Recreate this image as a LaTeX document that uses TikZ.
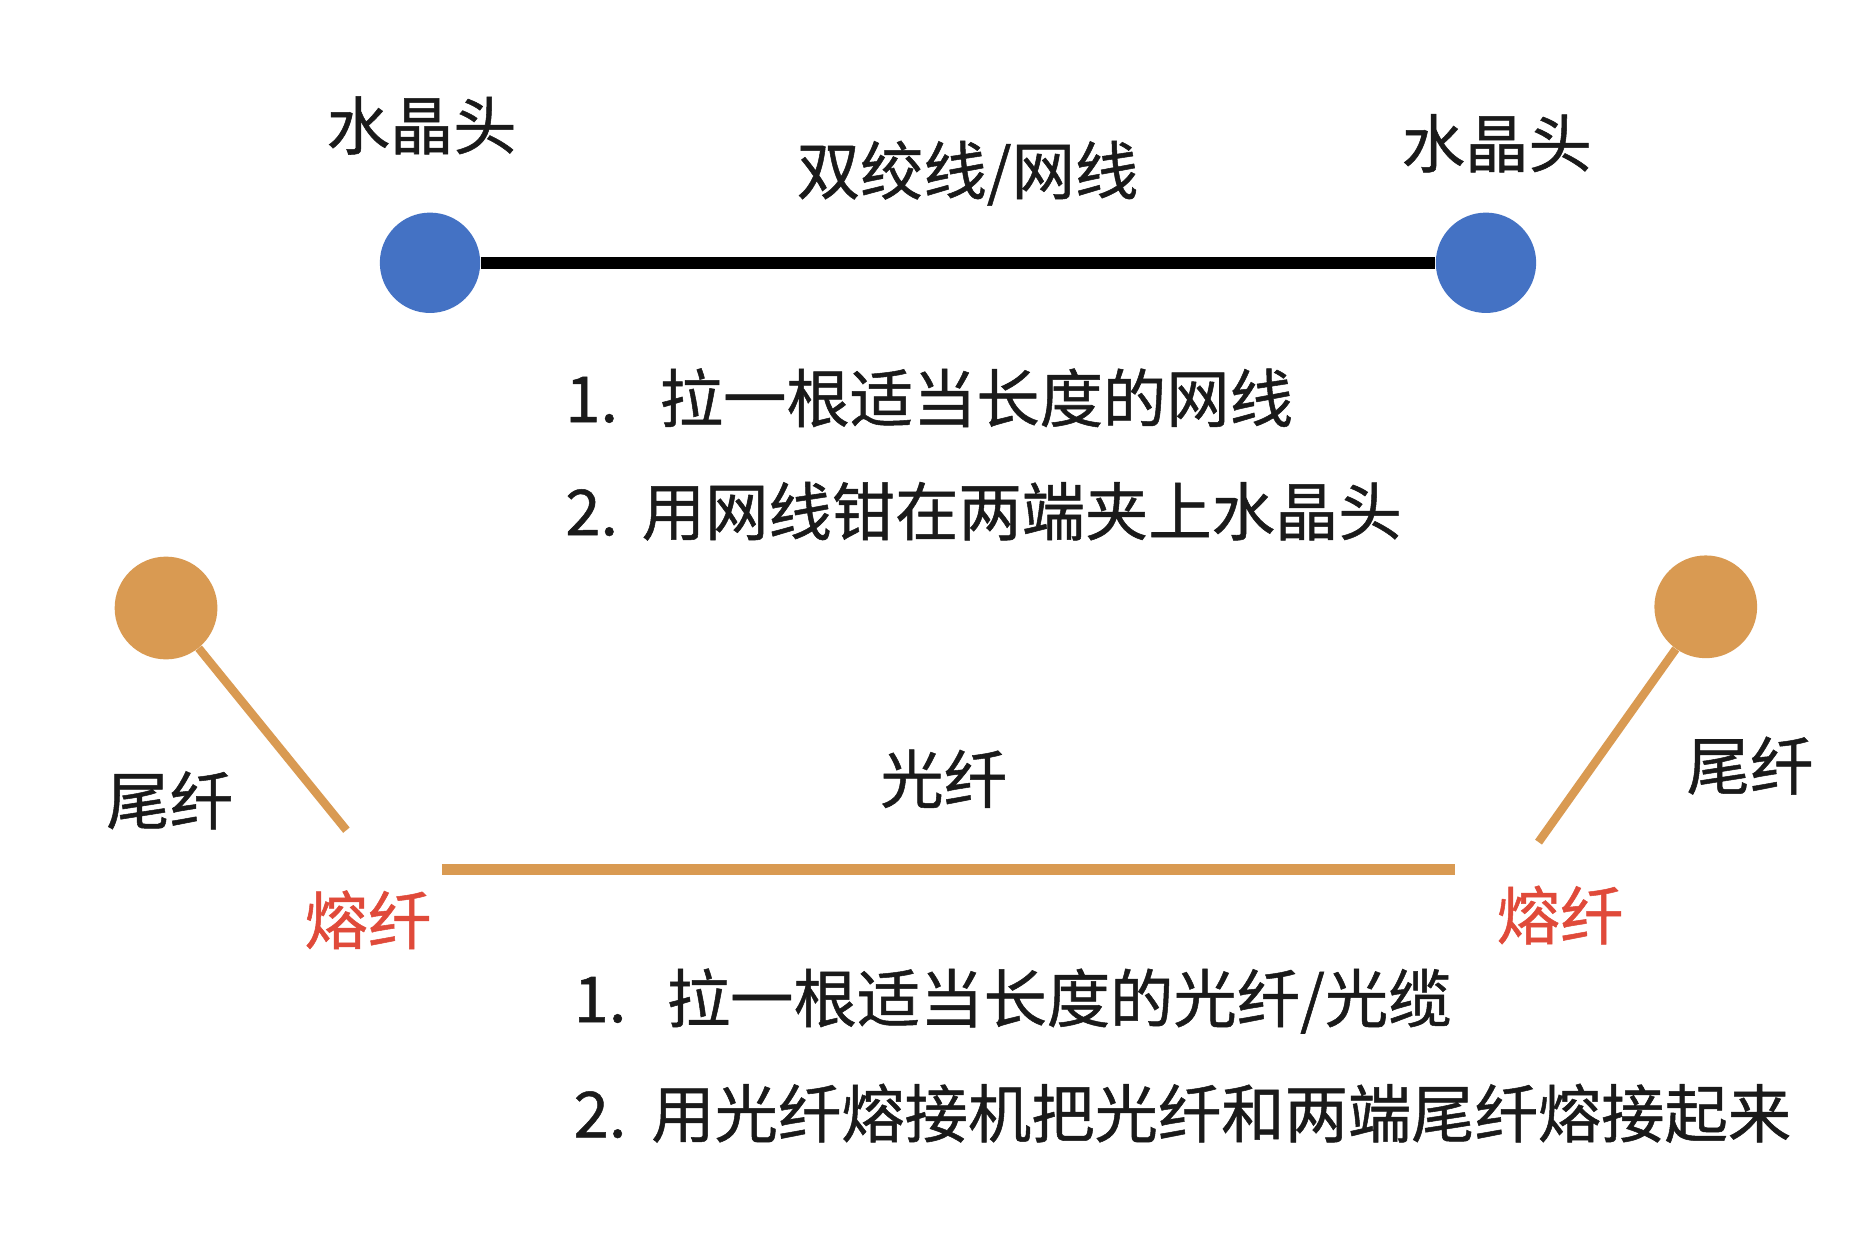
\documentclass[tikz,border=0pt]{standalone}
\usepackage{fontspec}
\newfontfamily\cjk[FakeBold=0.8]{Noto Sans CJK SC}
\definecolor{cblue}{HTML}{4472C4}
\definecolor{corange}{HTML}{D99A52}
\definecolor{cred}{HTML}{E04A3A}
\definecolor{ctext}{HTML}{1A1A1A}
\begin{document}
\begin{tikzpicture}[x=0.025cm,y=-0.025cm,
  lbl/.style={font=\cjk\fontsize{37.7}{45}\selectfont, text=ctext, inner sep=0pt},
  redlbl/.style={lbl, text=cred},
  listline/.style={lbl, anchor=west},
  bluedot/.style={circle, fill=cblue, minimum size=2.1cm, inner sep=0pt},
  orangedot/.style={circle, fill=corange, minimum size=2.15cm, inner sep=0pt},
  cable/.style={line width=7.1pt, black},
  fiber/.style={line width=6.4pt, corange},
  pigtail/.style={line width=5pt, corange}]
\useasboundingbox (0,0) rectangle (1568,1036);
\fill[white] (0,0) rectangle (1568,1036);
% top: twisted pair
\node[bluedot] (b1) at (360,220) {};
\node[bluedot] (b2) at (1244,220) {};
\draw[cable] (b1) -- (b2);
\node[lbl] (h1) at (353,105) {水晶头};
\node[lbl] (h2) at (1253,120) {水晶头};
\node[lbl] (tp) at (810,145) {双绞线/网线};
\node[listline] (s1) at (473,333) {\makebox[1.975cm][l]{1.}拉一根适当长度的网线};
\node[listline] (s2) at (473,428) {\makebox[1.6cm][l]{2.}用网线钳在两端夹上水晶头};
% bottom: fiber
\node[orangedot] (o1) at (139,509) {};
\node[orangedot] (o2) at (1428,508) {};
\coordinate (e1) at (290,695);
\coordinate (e2) at (1288,705);
\draw[pigtail] (o1) -- (e1);
\draw[pigtail] (o2) -- (e2);
\coordinate (fl) at (370,728);
\coordinate (fr) at (1218,728);
\draw[fiber] (fl) -- (fr);
\node[lbl] (gx) at (790,652) {光纤};
\node[lbl] (w1) at (142,670) {尾纤};
\node[lbl] (w2) at (1465,641) {尾纤};
\node[redlbl] (r1) at (308,770) {熔纤};
\node[redlbl] (r2) at (1306,766) {熔纤};
\node[listline] (t1) at (480,838) {\makebox[1.95cm][l]{1.}拉一根适当长度的光纤/光缆};
\node[listline] (t2) at (480,932) {\makebox[1.625cm][l]{2.}用光纤熔接机把光纤和两端尾纤熔接起来};
\end{tikzpicture}
\end{document}
